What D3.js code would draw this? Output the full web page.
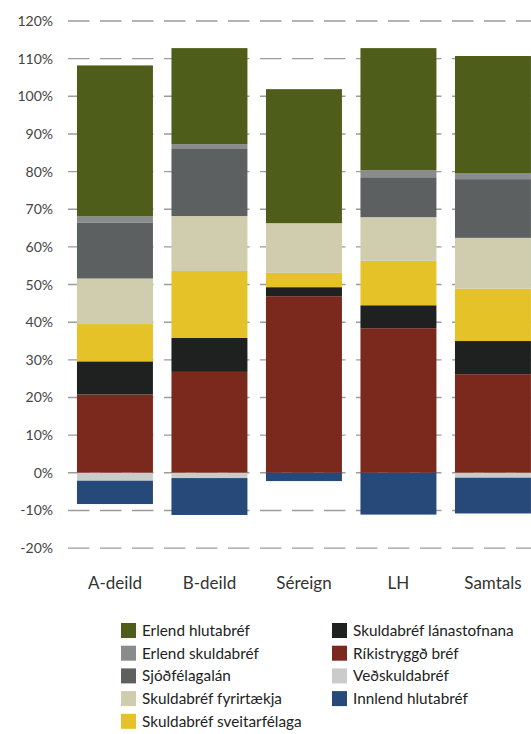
<!DOCTYPE html>
<html>
<head>
<meta charset="utf-8">
<script src="https://cdn.jsdelivr.net/npm/d3@7"></script>
<style>
  body { margin: 0; background: #fff; }
  svg { display: block; font-family: Lato, "Open Sans", sans-serif; }
</style>
</head>
<body>
<svg id="chart" width="531" height="734"></svg>
<script>
// flokkar
var categories = ["A-deild", "B-deild", "Séreign", "LH", "Samtals"];

// hlutföll í % (neðst upp)
var rikistryggd   = [20.8, 26.8, 46.9, 38.4, 26.2];
var lanastofnana  = [8.8, 9.0, 2.4, 6.1, 8.8];
var sveitarfelaga = [9.9, 17.8, 3.8, 11.8, 13.9];
var fyrirtaekja   = [12.1, 14.6, 13.2, 11.6, 13.5];
var sjodfelagalan = [14.9, 17.8, 0, 10.6, 15.6];
var erlSkuld      = [1.6, 1.3, 0, 1.9, 1.5];
var erlHluta      = [40.1, 25.5, 35.6, 32.4, 31.2];
var vedskuld      = [-2.1, -1.4, 0, 0, -1.3];
var innlHluta     = [-6.2, -9.8, -2.2, -11.1, -9.5];

var yTicks = [-20, -10, 0, 10, 20, 30, 40, 50, 60, 70, 80, 90, 100, 110, 120];

var series = [
  { key: "Ríkistryggð bréf", values: rikistryggd, color: "#7c291d" },
  { key: "Skuldabréf lánastofnana", values: lanastofnana, color: "#1f2020" },
  { key: "Skuldabréf sveitarfélaga", values: sveitarfelaga, color: "#e5c228" },
  { key: "Skuldabréf fyrirtækja", values: fyrirtaekja, color: "#cfcdae" },
  { key: "Sjóðfélagalán", values: sjodfelagalan, color: "#5d6061" },
  { key: "Erlend skuldabréf", values: erlSkuld, color: "#8a8b8c" },
  { key: "Erlend hlutabréf", values: erlHluta, color: "#4e5d19" },
  { key: "Veðskuldabréf", values: vedskuld, color: "#cbcbca" },
  { key: "Innlend hlutabréf", values: innlHluta, color: "#26497a" }
];

var legendCol1 = ["Erlend hlutabréf", "Erlend skuldabréf", "Sjóðfélagalán", "Skuldabréf fyrirtækja", "Skuldabréf sveitarfélaga"];
var legendCol2 = ["Skuldabréf lánastofnana", "Ríkistryggð bréf", "Veðskuldabréf", "Innlend hlutabréf"];

var colorOf = {};
series.forEach(function (s) { colorOf[s.key] = s.color; });

var rows = categories.map(function (c, i) {
  var r = { cat: c };
  series.forEach(function (s) { r[s.key] = s.values[i]; });
  return r;
});

var stacked = d3.stack()
  .keys(series.map(function (s) { return s.key; }))
  .offset(d3.stackOffsetDiverging)(rows);

var svg = d3.select("#chart");

var x = d3.scaleBand()
  .domain(categories)
  .range([67.7, 540.2])
  .paddingInner(0.196)
  .paddingOuter(0.098);

var y = d3.scaleLinear()
  .domain([-20, 120])
  .range([548.1, 21]);

// gridlínur
svg.append("g").selectAll("line")
  .data(yTicks)
  .enter().append("line")
  .attr("x1", 68).attr("x2", 531)
  .attr("y1", function (d) { return y(d); })
  .attr("y2", function (d) { return y(d); })
  .attr("stroke", "#9c9c9c")
  .attr("stroke-width", 1.4)
  .attr("stroke-dasharray", "21.5,10.5");

// y ás
var yAxis = d3.axisLeft(y)
  .tickValues(yTicks)
  .tickFormat(function (d) { return d + "%"; })
  .tickSize(0)
  .tickPadding(0);

var ya = svg.append("g")
  .attr("transform", "translate(53,0)")
  .call(yAxis);
ya.select(".domain").remove();
ya.selectAll("text")
  .attr("font-size", 14)
  .attr("font-family", "Lato, sans-serif")
  .attr("fill", "#444");

// súlur
svg.append("g").selectAll("g")
  .data(stacked)
  .enter().append("g")
  .attr("fill", function (d) { return colorOf[d.key]; })
  .selectAll("rect")
  .data(function (d) { return d; })
  .enter().append("rect")
  .attr("x", function (d) { return x(d.data.cat); })
  .attr("width", x.bandwidth())
  .attr("y", function (d) { return y(Math.max(d[0], d[1])); })
  .attr("height", function (d) { return Math.abs(y(d[0]) - y(d[1])); });

// x ás
var xAxis = d3.axisBottom(x).tickSize(0).tickPadding(0);
var xa = svg.append("g")
  .attr("transform", "translate(0,570)")
  .call(xAxis);
xa.select(".domain").remove();
xa.selectAll("text")
  .attr("dy", null)
  .attr("y", 19)
  .attr("font-size", 17)
  .attr("font-family", "Lato, sans-serif")
  .attr("fill", "#333");

// skýringar
function legendColumn(items, x0) {
  var g = svg.append("g").attr("transform", "translate(" + x0 + ",623)");
  var it = g.selectAll("g").data(items).enter().append("g")
    .attr("transform", function (d, i) { return "translate(0," + (i * 22.7) + ")"; });
  it.append("rect")
    .attr("width", 15).attr("height", 15)
    .attr("fill", function (d) { return colorOf[d]; });
  it.append("text")
    .attr("x", 21).attr("y", 7.5)
    .attr("dy", "0.35em")
    .attr("font-size", 15.3)
    .attr("fill", "#222")
    .text(function (d) { return d; });
}
legendColumn(legendCol1, 121);
legendColumn(legendCol2, 332);
</script>
</body>
</html>
